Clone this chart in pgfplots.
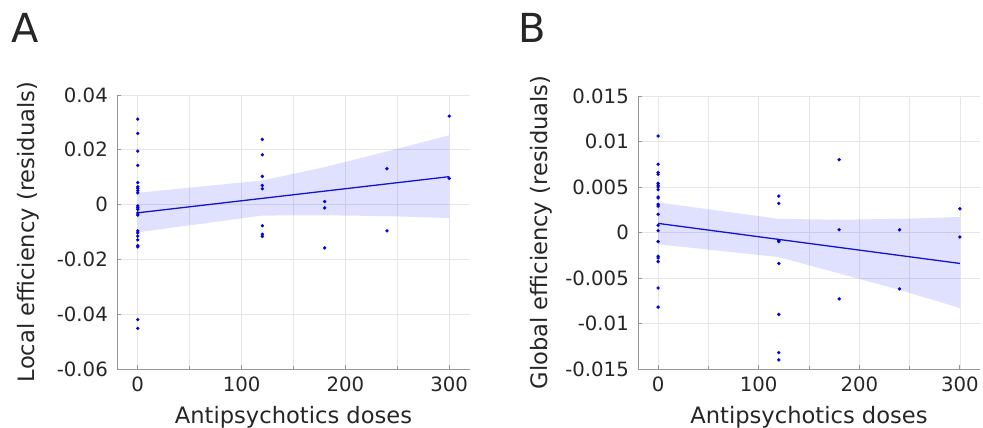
\documentclass[border=0pt]{standalone}
\usepackage{pgfplots}
\pgfplotsset{compat=1.18}
\usepackage{fontspec}
\setmainfont{DejaVu Sans}
\definecolor{txt}{RGB}{38,38,38}
\definecolor{axgray}{RGB}{150,150,150}
\definecolor{gridgray}{RGB}{230,230,230}
\definecolor{dotblue}{RGB}{0,0,230}
\definecolor{lineblue}{RGB}{20,20,200}
\pgfplotsset{
 myax/.style={
  scale only axis,
  anchor=south west,
  xmin=-20, xmax=320,
  xtick={0,100,200,300},
  minor xtick={50,150,250},
  xmajorgrids, xminorgrids, ymajorgrids,
  grid style={gridgray, line width=0.6bp},
  minor grid style={gridgray, line width=0.6bp},
  axis x line*=bottom, axis y line*=left,
  axis line style={axgray, line width=0.8bp},
  tick style={axgray, line width=0.8bp},
  tick align=inside,
  major tick length=4bp, minor tick length=3bp,
  scaled y ticks=false,
  every tick label/.append style={font=\fontsize{19.7bp}{23bp}\selectfont, text=txt, inner sep=0pt},
  xticklabel style={yshift=-8bp},
  yticklabel style={xshift=-9bp},
  /pgf/number format/assume math mode=true,
  label style={font=\fontsize{22.6bp}{26bp}\selectfont, text=txt, inner sep=0pt},
  xlabel={Antipsychotics doses},
  xlabel style={at={(axis description cs:0.5,0)}, anchor=base, yshift=-54bp},
  clip=false,
 },
 dots/.style={only marks, mark=*, mark size=1.5bp, color=dotblue},
 band/.style={draw=none, fill=blue, fill opacity=0.12},
 fit/.style={lineblue, line width=1.3bp, mark=none},
}
\begin{document}
\begin{tikzpicture}
\path[use as bounding box] (0,0) rectangle (983bp,428bp);
\node[font=\fontsize{40bp}{44bp}\selectfont, text=txt, anchor=base, inner sep=0pt] at (25.5bp,385bp) {A};
\node[font=\fontsize{40bp}{44bp}\selectfont, text=txt, anchor=base, inner sep=0pt] at (532.5bp,385bp) {B};
\begin{axis}[myax, at={(117bp,59bp)}, width=353bp, height=274bp,
  ymin=-0.06, ymax=0.04,
  ytick={-0.06,-0.04,-0.02,0,0.02,0.04},
  yticklabels={-0.06,-0.04,-0.02,0,0.02,0.04},
  ylabel={Local efficiency (residuals)},
  ylabel style={at={(axis description cs:-0.2351,0.5)}, anchor=base},
]
\addplot[band] coordinates {(0,0.0043) (120,0.0088) (180,0.0137) (240,0.0194) (300,0.0253)
  (300,-0.0049) (240,-0.0042) (180,-0.0039) (120,-0.0040) (0,-0.0101)} -- cycle;
\addplot[fit] coordinates {(0,-0.0030) (300,0.0102)};
\addplot[dots] coordinates {
 (0,0.0312) (0,0.0260) (0,0.0195) (0,0.0143) (0,0.0080) (0,0.0065) (0,0.0059) (0,0.0051)
 (0,0.0043) (0,-0.0005) (0,-0.0011) (0,-0.0017) (0,-0.0030) (0,-0.0038) (0,-0.0096)
 (0,-0.0103) (0,-0.0115) (0,-0.0129) (0,-0.0150) (0,-0.0154) (0,-0.0420) (0,-0.0452)
 (120,0.0238) (120,0.0182) (120,0.0103) (120,0.0070) (120,0.0058) (120,-0.0077) (120,-0.0108) (120,-0.0116)
 (180,0.0011) (180,-0.0012) (180,-0.0158)
 (240,0.0131) (240,-0.0096)
 (300,0.0323) (300,0.0096)
};
\end{axis}
\begin{axis}[myax, at={(638bp,59bp)}, width=342bp, height=273bp,
  ymin=-0.015, ymax=0.015,
  ytick={-0.015,-0.01,-0.005,0,0.005,0.01,0.015},
  yticklabels={-0.015,-0.01,-0.005,0,0.005,0.01,0.015},
  ylabel={Global efficiency (residuals)},
  ylabel style={at={(axis description cs:-0.2632,0.5)}, anchor=base},
]
\addplot[band] coordinates {(0,0.0033) (120,0.0015) (180,0.0014) (240,0.0015) (300,0.0017)
  (300,-0.0083) (240,-0.0063) (180,-0.0045) (120,-0.0027) (0,-0.0013)} -- cycle;
\addplot[fit] coordinates {(0,0.0010) (300,-0.0034)};
\addplot[dots] coordinates {
 (0,0.0106) (0,0.0075) (0,0.0066) (0,0.0064) (0,0.0054) (0,0.0052) (0,0.0050) (0,0.0047)
 (0,0.0039) (0,0.0038) (0,0.0031) (0,0.0029) (0,0.0020) (0,0.0008) (0,0.0002) (0,-0.0010)
 (0,-0.0026) (0,-0.0028) (0,-0.0032) (0,-0.0061) (0,-0.0082)
 (120,0.0040) (120,0.0032) (120,-0.0009) (120,-0.0010) (120,-0.0034) (120,-0.0090) (120,-0.0132) (120,-0.0140)
 (180,0.0080) (180,0.0003) (180,-0.0073)
 (240,0.0003) (240,-0.0062)
 (300,0.0026) (300,-0.0005)
};
\end{axis}
\end{tikzpicture}
\end{document}
